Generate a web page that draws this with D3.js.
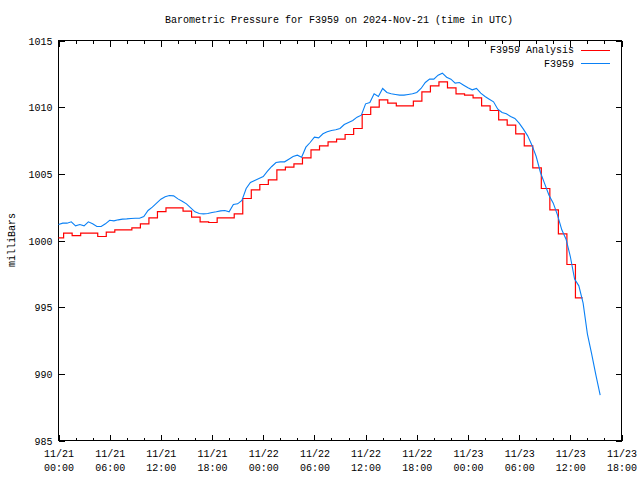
<!DOCTYPE html>
<html><head><meta charset="utf-8">
<script src="https://cdn.jsdelivr.net/npm/d3@7"></script>
<style>
body{margin:0;background:#fff}
svg text{font-family:"Liberation Mono","DejaVu Sans Mono",monospace;font-size:10px;fill:#000}
</style>
</head><body><svg id="c" width="640" height="480"></svg>
<script>
const titleText = "Barometric Pressure for F3959 on 2024-Nov-21 (time in UTC)";
const yLabelText = "milliBars";
const seriesNames = ["F3959 Analysis", "F3959"];
const seriesColors = ["#ff0000", "#0a80f5"];
const yTicks = [985, 990, 995, 1000, 1005, 1010, 1015];
const xTickLabels = [
  ["11/21","00:00"],["11/21","06:00"],["11/21","12:00"],["11/21","18:00"],
  ["11/22","00:00"],["11/22","06:00"],["11/22","12:00"],["11/22","18:00"],
  ["11/23","00:00"],["11/23","06:00"],["11/23","12:00"],["11/23","18:00"]
];
// hourly analysis values (step per hour), starting 11/21 00:00
const analysisValues = [
  1000.2,1000.55,1000.37,1000.55,1000.55,1000.3,1000.63,1000.8,1000.8,1000.95,
  1001.25,1001.7,1002.17,1002.45,1002.45,1002.2,1001.75,1001.4,1001.35,1001.7,
  1001.7,1002.0,1003.15,1003.8,1004.2,1004.55,1005.3,1005.5,1005.75,1006.2,
  1006.8,1007.1,1007.4,1007.6,1007.95,1008.4,1009.45,1010.0,1010.55,1010.3,
  1010.1,1010.1,1010.45,1011.15,1011.6,1011.9,1011.45,1011.0,1010.9,1010.7,
  1010.1,1009.75,1009.05,1008.65,1008.0,1007.1,1005.45,1003.9,1002.3,1000.5,
  998.2,995.7
];
// observed values every 30 minutes, starting 11/21 00:00
const observedValues = [
  1001.2,1001.3,1001.3,1001.4,1001.1,1001.2,1001.1,1001.4,1001.25,1001.05,
  1001.05,1001.25,1001.52,1001.47,1001.55,1001.6,1001.62,1001.65,1001.67,1001.67,
  1001.8,1002.25,1002.5,1002.8,1003.1,1003.28,1003.37,1003.35,1003.12,1002.95,
  1002.75,1002.45,1002.15,1002.03,1002.0,1002.03,1002.1,1002.15,1002.22,1002.25,
  1002.15,1002.7,1002.75,1003.0,1003.9,1004.35,1004.5,1004.65,1004.8,1005.2,
  1005.55,1005.85,1005.9,1005.9,1006.1,1006.3,1006.4,1006.25,1007.0,1007.35,
  1007.75,1007.7,1008.0,1008.15,1008.25,1008.3,1008.4,1008.7,1008.85,1009.0,
  1009.25,1009.4,1010.25,1010.35,1011.0,1010.8,1011.4,1011.1,1011.0,1010.95,
  1010.9,1010.9,1010.95,1011.0,1011.1,1011.4,1011.85,1012.1,1012.1,1012.4,
  1012.55,1012.25,1012.1,1011.8,1011.85,1011.65,1011.45,1011.3,1011.4,1011.05,
  1010.8,1010.6,1010.4,1009.85,1009.6,1009.5,1009.3,1009.15,1008.8,1008.35,
  1007.85,1007.15,1006.3,1005.1,1004.25,1003.4,1002.8,1001.9,1000.8,1000.1,
  998.8,997.1,996.6,995.3,993.0,991.5,989.9,988.4
];

const svg = d3.select("#c");
const t0 = Date.UTC(2024, 10, 21, 0);
const H = 3600000;
const L = 58.5, R = 621.5, T = 40.5, B = 440.5;

const x = d3.scaleUtc().domain([new Date(t0), new Date(t0 + 66 * H)]).range([L, R]);
const y = d3.scaleLinear().domain([985, 1015]).range([B, T]);

const majorTimes = xTickLabels.map((d, i) => new Date(t0 + i * 6 * H));
const minorTimes = d3.range(0, 67, 2).filter(h => h % 6 !== 0).map(h => new Date(t0 + h * H));

svg.append("rect").attr("x", L).attr("y", T).attr("width", R - L).attr("height", B - T)
  .attr("fill", "none").attr("stroke", "#000").attr("stroke-width", 1).attr("shape-rendering", "crispEdges");

function styleAxis(g) {
  g.select(".domain").remove();
  g.selectAll("line").attr("stroke", "#000").attr("shape-rendering", "crispEdges");
  g.attr("font-family", null).attr("font-size", null);
}

const gb = svg.append("g").attr("transform", `translate(0,${B})`)
  .call(d3.axisBottom(x).tickValues(majorTimes).tickSize(-6).tickFormat(""));
styleAxis(gb);
gb.selectAll(".tick").each(function(d, i) {
  const tx = d3.select(this).append("text").attr("text-anchor", "middle").attr("fill", "#000");
  tx.append("tspan").attr("x", 0).attr("y", 16).text(xTickLabels[i][0]);
  tx.append("tspan").attr("x", 0).attr("y", 30).text(xTickLabels[i][1]);
});
styleAxis(svg.append("g").attr("transform", `translate(0,${B})`)
  .call(d3.axisBottom(x).tickValues(minorTimes).tickSize(-3).tickFormat("")));
styleAxis(svg.append("g").attr("transform", `translate(0,${T})`)
  .call(d3.axisTop(x).tickValues(majorTimes).tickSize(-6).tickFormat("")));
styleAxis(svg.append("g").attr("transform", `translate(0,${T})`)
  .call(d3.axisTop(x).tickValues(minorTimes).tickSize(-3).tickFormat("")));
const gl = svg.append("g").attr("transform", `translate(${L},0)`)
  .call(d3.axisLeft(y).tickValues(yTicks).tickSize(-6).tickPadding(6).tickFormat(d3.format("d")));
styleAxis(gl);
gl.selectAll("text").attr("fill", "#000").attr("dy", "0.35em");
styleAxis(svg.append("g").attr("transform", `translate(${R},0)`)
  .call(d3.axisRight(y).tickValues(yTicks).tickSize(-6).tickFormat("")));

const analysisData = analysisValues.map((v, k) => ({ t: new Date(t0 + Math.max(0, k - 0.4) * H), v }));
analysisData.push({ t: new Date(t0 + (analysisValues.length - 0.55) * H), v: analysisValues[analysisValues.length - 1] });
const observedData = observedValues.map((v, i) => ({ t: new Date(t0 + i * 0.5 * H), v }));

const lineStep = d3.line().x(d => x(d.t)).y(d => y(d.v)).curve(d3.curveStepAfter);
const lineLin = d3.line().x(d => x(d.t)).y(d => y(d.v));

svg.append("path").datum(analysisData).attr("d", lineStep)
  .attr("fill", "none").attr("stroke", seriesColors[0]).attr("stroke-width", 1.2);
svg.append("path").datum(observedData).attr("d", lineLin)
  .attr("fill", "none").attr("stroke", seriesColors[1]).attr("stroke-width", 1.1);

seriesNames.forEach((name, i) => {
  const ly = 49.5 + i * 13.5;
  svg.append("text").attr("x", 574).attr("y", ly).attr("dy", "0.35em").attr("text-anchor", "end").text(name);
  svg.append("line").attr("x1", 581).attr("x2", 610).attr("y1", Math.round(ly) + 0.5).attr("y2", Math.round(ly) + 0.5)
    .attr("stroke", seriesColors[i]).attr("stroke-width", 1).attr("shape-rendering", "crispEdges");
});

svg.append("text").attr("x", 339).attr("y", 19).attr("dy", "0.35em").attr("text-anchor", "middle").text(titleText);
svg.append("text").attr("transform", "translate(11,240) rotate(-90)").attr("dy", "0.35em")
  .attr("text-anchor", "middle").text(yLabelText);
</script>
</body></html>
